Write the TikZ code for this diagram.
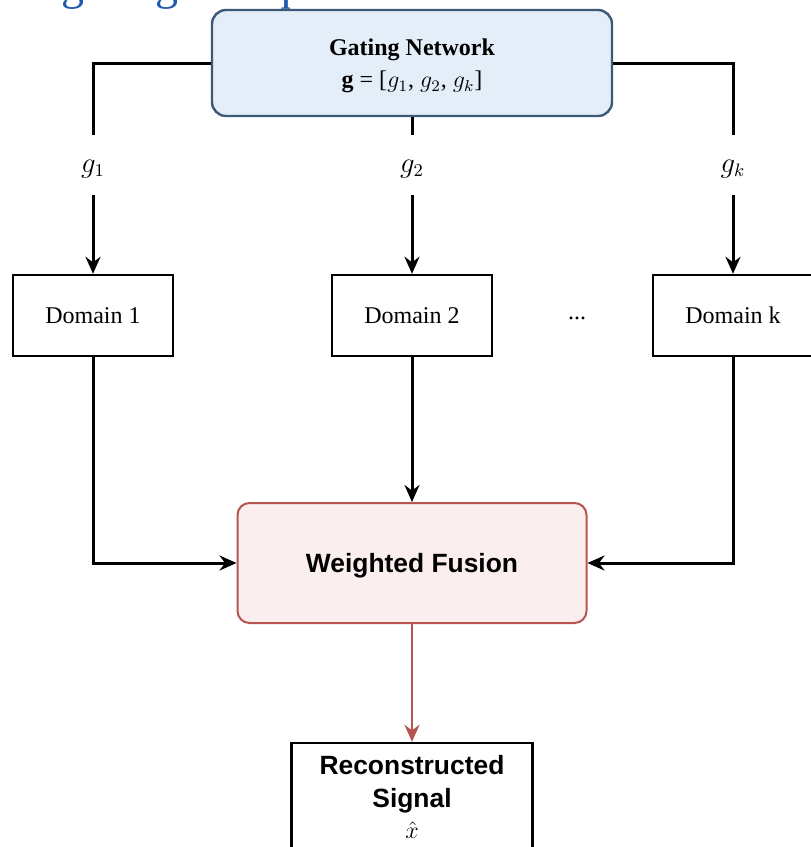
\documentclass[tikz,border=0pt]{standalone}
\usepackage{amsmath}
\usepackage{fontspec}
\setmainfont{Liberation Serif}
\setsansfont{Liberation Sans}
\usetikzlibrary{arrows.meta,positioning}

\definecolor{gateblue}{HTML}{E4EEF9}
\definecolor{gateline}{HTML}{3C5A78}
\definecolor{fusepink}{HTML}{FBEEEE}
\definecolor{fusered}{HTML}{B85450}
\definecolor{headblue}{HTML}{1F5AAE}

\begin{document}
\begin{tikzpicture}[
  x=0.5pt, y=-0.5pt,
  >={Stealth[length=8.5pt,width=7.5pt]},
  every node/.style={align=center},
  wire/.style={line width=1.5pt},
  gatebox/.style={draw=gateline, line width=1.2pt, fill=gateblue, rounded corners=7pt,
                  minimum width=200pt, minimum height=53pt},
  gatetext/.style={font=\fontsize{12}{15}\selectfont\bfseries},
  domainbox/.style={draw, line width=1.2pt, fill=white, minimum width=80pt, minimum height=40.5pt,
                 font=\fontsize{12}{14}\selectfont},
  fusebox/.style={draw=fusered, line width=1pt, fill=fusepink, rounded corners=6pt, text depth=0pt,
                  minimum width=174.5pt, minimum height=60pt, font=\sffamily\bfseries\fontsize{13.2}{16}\selectfont},
  outbox/.style={draw, line width=1.2pt, fill=white, minimum width=120.5pt, minimum height=53.5pt,
                 font=\sffamily\bfseries\fontsize{13.2}{16.5}\selectfont},
  weight/.style={inner sep=0pt, minimum height=30pt, text height=10.5pt, text depth=3pt,
                 font=\fontsize{13.5}{15}\selectfont},
]
  \useasboundingbox (0,0) rectangle (810,847);

  % heading of the page, cut by the top edge
  \node[anchor=base east, inner sep=0pt, text=headblue, font=\fontsize{23}{27}\selectfont]
       (head) at (386,-0.5) {Weighting is required};

  \node[gatebox] (gate) at (412,63) {};
  \node[gatetext] (gatetxt) at (412,66) {Gating Network\\[1pt]
       {\mdseries\textbf{g} = [$g_1$, $g_2$, $g_k$]}};

  \node[weight] (w1) at (93,165)  {$g_1$};
  \node[weight] (w2) at (412,165) {$g_2$};
  \node[weight] (wk) at (733,165) {$g_k$};

  \node[domainbox] (dom1) at (93,315.5)  {Domain 1};
  \node[domainbox] (dom2) at (412,315.5) {Domain 2};
  \node[domainbox] (domk) at (733,315.5) {Domain k};
  \node[font=\fontsize{12}{14}\selectfont] (dots) at (577,318) {...};

  \node[fusebox] (fuse) at (412,563) {Weighted Fusion};
  \node[outbox]  (recon) at (412,796.5) {Reconstructed\\Signal\\[-1pt]
       {\mdseries\fontsize{13}{15}\selectfont$\hat{x}$}};

  \draw[wire] (gate.west) -| (w1); \draw[wire] (gate) -- (w2); \draw[wire] (gate.east) -| (wk);
  \draw[wire,->] (w1) -- (dom1); \draw[wire,->] (w2) -- (dom2); \draw[wire,->] (wk) -- (domk);

  \draw[wire,->] (dom1) |- (fuse); \draw[wire,->] (dom2) -- (fuse); \draw[wire,->] (domk) |- (fuse);

  \draw[line width=1.2pt, fusered, ->] (fuse) -- (recon);
\end{tikzpicture}
\end{document}
